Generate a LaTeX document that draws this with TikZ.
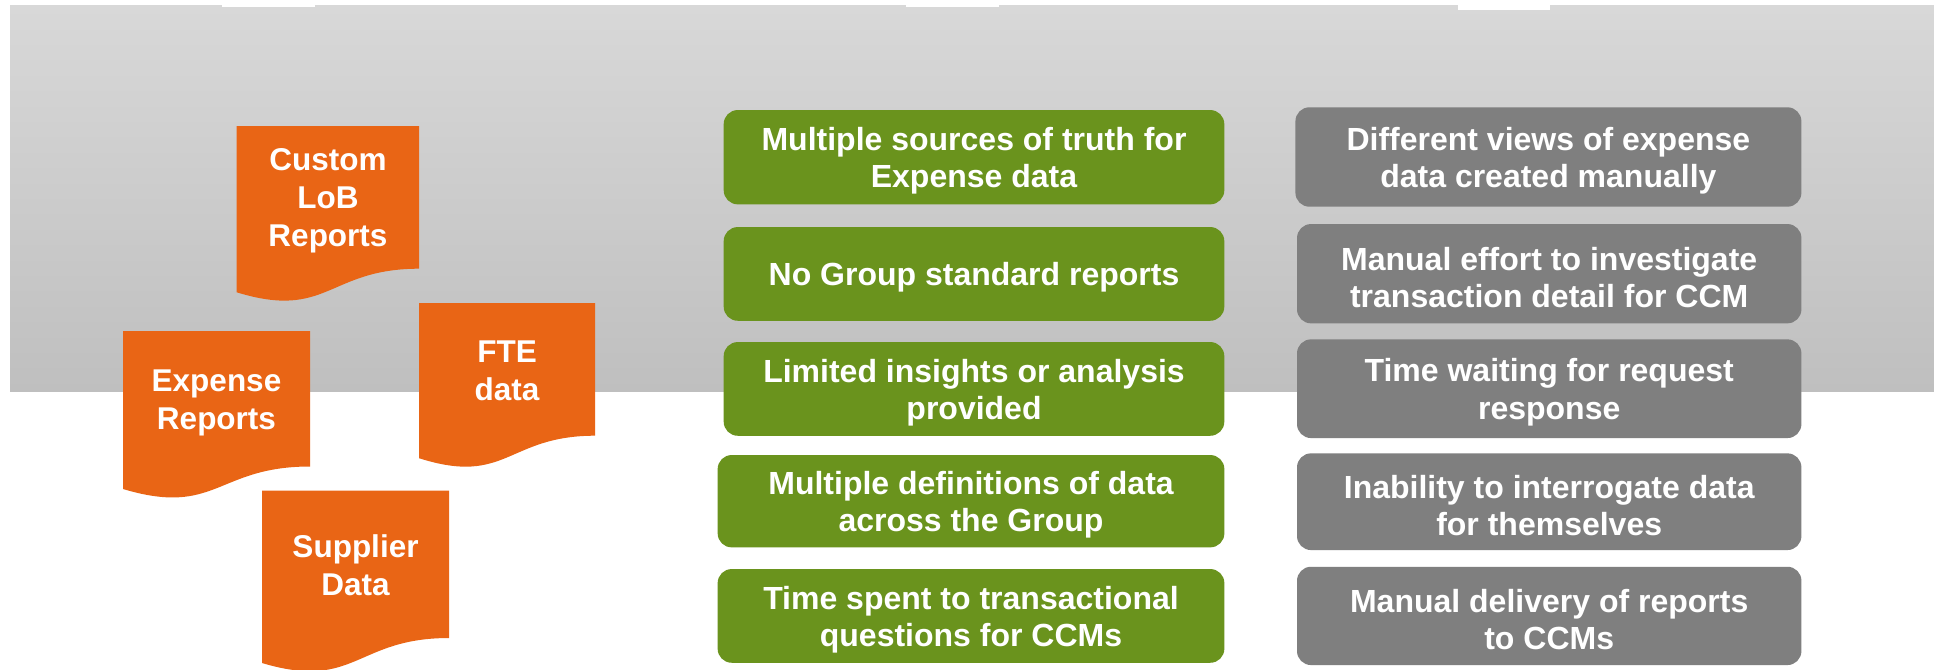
\documentclass[tikz,border=0pt]{standalone}
\usepackage{fontspec}
\setmainfont{Liberation Sans}
\definecolor{docorange}{RGB}{233,101,21}
\definecolor{boxgreen}{RGB}{106,147,29}
\definecolor{boxgray}{RGB}{127,127,127}
\definecolor{bandtop}{RGB}{216,216,216}
\definecolor{bandbot}{RGB}{191,191,191}
\newcommand\tstrut{\rule{0pt}{30.5pt}}
\tikzset{
  doctext/.style={text=white, font=\bfseries\fontsize{31.5}{38}\selectfont, align=center, inner sep=0pt},
  issue/.style={rounded corners=14pt, text=white, font=\bfseries\fontsize{32}{37.5}\selectfont, align=center, inner sep=0pt},
  greenbox/.style={issue, fill=boxgreen},
  graybox/.style={issue, fill=boxgray},
  docshape/.style={fill=docorange},
}
\newcommand\docpath[5]{% x0 x1 top yR yL
  \pgfmathsetmacro\xm{(#1+#2)/2}
  \fill[docshape] (#1,-#3) -- (#2,-#3) -- (#2,-#4) .. controls (\xm,-#4) and (\xm,-#5-28) .. (#1,-#5) -- cycle;}
\begin{document}
\begin{tikzpicture}[x=1pt,y=1pt]
\useasboundingbox (0,0) rectangle (1934,-669);
\fill[white] (0,0) rectangle (1934,-669);
% background band
\shade[top color=bandtop, bottom color=bandbot] (10,-6) rectangle (1934,-391);
\fill[white] (222,-5) rectangle (314.5,-7.5);
\fill[white] (906,-5) rectangle (999,-7.5);
\fill[white] (1458,-5) rectangle (1550,-10);
% documents
\docpath{236.7}{419}{126.1}{268.7}{292.3}
\node[doctext] (lob) at (328,-201) {Custom\\LoB\\Reports};
\docpath{123}{310}{331.2}{466.5}{489}
\node[doctext] (exp) at (216.5,-403) {Expense\\Reports};
\docpath{419}{595}{303.2}{435.7}{458.2}
\node[doctext] (fte) at (507,-371) {FTE\\data};
\docpath{262}{449}{490.5}{638}{663}
\node[doctext] (sup) at (355.5,-565) {Supplier\\Data};
% green issues
\node[greenbox, minimum width=500.6pt, minimum height=94.3pt] (g1) at (974,-157.2) {\tstrut Multiple sources of truth for\\Expense data};
\node[greenbox, minimum width=500.6pt, minimum height=93.7pt] (g2) at (974,-273.9) {\tstrut No Group standard reports};
\node[greenbox, minimum width=500.6pt, minimum height=93.7pt] (g3) at (974,-388.9) {\tstrut Limited insights or analysis\\provided};
\node[greenbox, minimum width=506.7pt, minimum height=92.3pt] (g4) at (971,-501.2) {\tstrut Multiple definitions of data\\across the Group};
\node[greenbox, minimum width=506.7pt, minimum height=93.7pt] (g5) at (971,-615.9) {\tstrut Time spent to transactional\\questions for CCMs};
% gray issues
\node[graybox, minimum width=506pt, minimum height=99.4pt] (r1) at (1548.4,-157) {\tstrut Different views of expense\\data created manually};
\node[graybox, minimum width=504.4pt, minimum height=99.3pt] (r2) at (1549.2,-273.7) {\tstrut Manual effort to investigate\\transaction detail for CCM};
\node[graybox, minimum width=504.4pt, minimum height=98.7pt] (r3) at (1549.2,-388.7) {\tstrut Time waiting for request\\response};
\node[graybox, minimum width=504.4pt, minimum height=96.7pt] (r4) at (1549.2,-501.7) {\tstrut Inability to interrogate data\\for themselves};
\node[graybox, minimum width=504.4pt, minimum height=98.3pt] (r5) at (1549.2,-615.9) {\tstrut Manual delivery of reports\\to CCMs};
\end{tikzpicture}
\end{document}
